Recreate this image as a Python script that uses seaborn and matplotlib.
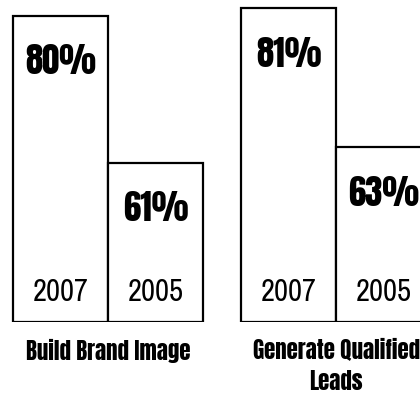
import matplotlib
matplotlib.use("Agg")
import matplotlib.pyplot as plt
import seaborn as sns
import pandas as pd

categories = ["Build Brand Image", "Generate Qualified\nLeads"]
years = ["2007", "2005"]
values_2007 = [80, 81]
values_2005 = [61, 63]

BASE = 40.4  # value at which the (truncated) bars start

rows = []
for cat, v07, v05 in zip(categories, values_2007, values_2005):
    rows.append({"category": cat, "year": "2007", "value": v07})
    rows.append({"category": cat, "year": "2005", "value": v05})
df = pd.DataFrame(rows)
df["shown"] = df["value"] - BASE

sns.set_theme(style="white")
BIG = ["Anton", "DejaVu Sans"]
YEARF = ["Archivo Narrow", "DejaVu Sans"]
plt.rcParams["font.family"] = BIG

fig = plt.figure(figsize=(4.2, 3.94), dpi=100)
ax = fig.add_axes([0, (394 - 322) / 394, 1, 322 / 394])

sns.barplot(data=df, x="category", y="shown", hue="year", hue_order=years,
            order=categories, width=0.833, palette=["white", "white"],
            saturation=1, edgecolor="black", linewidth=1.6, errorbar=None,
            legend=False, bottom=BASE, ax=ax)

ax.set_xlim(-0.4737, 1.368)
ax.set_ylim(BASE, 82.06)
for s in ax.spines.values():
    s.set_visible(False)
ax.set_xlabel("")
ax.set_ylabel("")
ax.set_yticks([])
ax.tick_params(axis="x", length=0, pad=12)
for lab in ax.get_xticklabels():
    lab.set_fontsize(16.5)
    lab.set_family(BIG)
    lab.set_linespacing(1.4)
    lab.set_color("black")

series = {"2007": values_2007, "2005": values_2005}
for container, yr in zip(ax.containers, years):
    for patch, val in zip(container.patches, series[yr]):
        cx = patch.get_x() + patch.get_width() / 2
        top = patch.get_y() + patch.get_height()
        ax.annotate(f"{val}%", (cx, top), xytext=(0, -42), textcoords="offset points",
                    ha="center", va="baseline", fontsize=25,
                    color="black", family=BIG)
        ax.annotate(yr, (cx, patch.get_y()), xytext=(0, 15), textcoords="offset points",
                    ha="center", va="baseline", fontsize=22, color="black", family=YEARF)

fig.savefig("out.png", dpi=100, facecolor="white")
